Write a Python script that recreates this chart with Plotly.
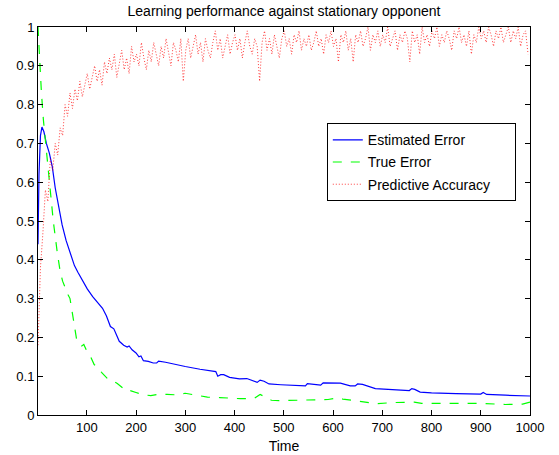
import plotly.graph_objects as go

# ---- data ----
err_t = [1, 3, 6, 9, 13, 18, 24, 30, 36, 42, 50, 58, 68, 75, 82, 92, 101, 112, 122, 132,
         140, 148, 155, 160, 166, 175, 182, 186, 192, 200, 206, 210, 215, 225, 235, 242,
         246, 260, 280, 300, 330, 362, 366, 372, 378, 390, 410, 420, 425, 446, 452, 460,
         470, 494, 544, 548, 575, 580, 605, 615, 635, 645, 650, 660, 686, 720, 755, 760,
         766, 777, 800, 850, 900, 905, 912, 950, 1000]
est_err = [0.44, 0.62, 0.72, 0.742, 0.73, 0.70, 0.675, 0.64, 0.585, 0.545, 0.49, 0.45,
           0.415, 0.385, 0.368, 0.345, 0.325, 0.305, 0.29, 0.275, 0.255, 0.228, 0.222,
           0.205, 0.19, 0.18, 0.175, 0.178, 0.168, 0.16, 0.15, 0.152, 0.14, 0.138, 0.134,
           0.134, 0.139, 0.136, 0.13, 0.125, 0.118, 0.112, 0.10, 0.104, 0.104, 0.097,
           0.093, 0.093, 0.094, 0.084, 0.09, 0.087, 0.08, 0.078, 0.075, 0.081, 0.077,
           0.083, 0.083, 0.082, 0.075, 0.075, 0.08, 0.079, 0.068, 0.066, 0.063, 0.068,
           0.066, 0.059, 0.057, 0.055, 0.054, 0.058, 0.053, 0.051, 0.049]

true_t = [1, 4, 8, 12, 18, 25, 32, 40, 46, 51, 58, 62, 66, 71, 76, 80, 86, 90, 94, 100,
          108, 115, 122, 130, 142, 150, 162, 170, 175, 180, 190, 200, 215, 230, 245, 263,
          280, 300, 310, 330, 345, 370, 390, 412, 440, 452, 460, 475, 494, 530, 560, 590,
          608, 620, 650, 690, 720, 765, 780, 850, 900, 950, 985, 1000]
true_err = [1.0, 0.92, 0.83, 0.76, 0.68, 0.58, 0.50, 0.42, 0.37, 0.345, 0.32, 0.31, 0.30,
            0.26, 0.21, 0.19, 0.184, 0.178, 0.182, 0.165, 0.15, 0.13, 0.124, 0.11, 0.094,
            0.09, 0.081, 0.074, 0.068, 0.07, 0.062, 0.058, 0.052, 0.05, 0.053, 0.053,
            0.052, 0.056, 0.054, 0.05, 0.046, 0.045, 0.044, 0.042, 0.043, 0.053, 0.048,
            0.038, 0.037, 0.038, 0.038, 0.040, 0.044, 0.041, 0.036, 0.029, 0.032, 0.033,
            0.03, 0.029, 0.03, 0.027, 0.028, 0.033]

acc_t = list(range(1, 1001, 5))
pred_acc = [
    0.18, 0.38, 0.47, 0.58, 0.55, 0.66, 0.63, 0.70, 0.67, 0.74,
    0.72, 0.80, 0.77, 0.83, 0.79, 0.84, 0.81, 0.86, 0.82, 0.85,
    0.88, 0.84, 0.87, 0.90, 0.86, 0.89, 0.85, 0.91, 0.88, 0.92,
    0.89, 0.93, 0.87, 0.91, 0.94, 0.89, 0.92, 0.88, 0.95, 0.91,
    0.93, 0.90, 0.96, 0.92, 0.89, 0.94, 0.91, 0.96, 0.93, 0.90,
    0.95, 0.92, 0.97, 0.93, 0.90, 0.96, 0.94, 0.91, 0.97, 0.86,
    0.94, 0.97, 0.92, 0.95, 0.98, 0.93, 0.96, 0.91, 0.97, 0.94,
    0.92, 0.96, 0.99, 0.94, 0.97, 0.92, 0.95, 0.98, 0.93, 0.96,
    0.98, 0.94, 0.97, 0.92, 0.96, 0.99, 0.95, 0.93, 0.97, 0.95,
    0.86, 0.96, 0.99, 0.94, 0.97, 0.93, 0.98, 0.95, 0.92, 0.97,
    0.99, 0.95, 0.97, 0.93, 0.98, 0.96, 0.99, 0.94, 0.97, 0.95,
    0.98, 0.94, 0.96, 0.99, 0.95, 0.97, 0.93, 0.98, 0.96, 0.99,
    0.95, 0.97, 0.91, 0.98, 0.96, 0.99, 0.94, 0.97, 0.91, 0.98,
    0.96, 0.99, 0.95, 0.97, 1.00, 0.94, 0.98, 0.96, 0.99, 0.95,
    0.98, 0.96, 1.00, 0.95, 0.97, 0.99, 0.94, 0.98, 0.96, 0.99,
    0.97, 0.91, 0.99, 0.96, 0.98, 0.93, 1.00, 0.96, 0.98, 0.95,
    0.99, 0.97, 1.00, 0.95, 0.98, 0.96, 0.99, 0.97, 0.94, 0.99,
    0.97, 1.00, 0.96, 0.98, 0.95, 0.99, 0.93, 0.98, 0.96, 1.00,
    0.97, 0.99, 0.96, 1.00, 0.98, 0.95, 0.99, 0.97, 1.00, 0.96,
    0.98, 1.00, 0.96, 0.99, 0.97, 1.00, 0.95, 0.98, 0.99, 0.93,
]

x_ticks = [100, 200, 300, 400, 500, 600, 700, 800, 900, 1000]
y_ticks = [0, 0.1, 0.2, 0.3, 0.4, 0.5, 0.6, 0.7, 0.8, 0.9, 1]
y_tick_labels = ["0", "0.1", "0.2", "0.3", "0.4", "0.5", "0.6", "0.7", "0.8", "0.9", "1"]

FONT = "Liberation Sans, Arial, Helvetica, sans-serif"
PAD = "\u00a0" * 5  # keeps legend box as wide as the reference

fig = go.Figure()
fig.add_trace(go.Scatter(x=err_t, y=est_err, mode="lines", name="Estimated Error",
                         legendgroup="a",
                         line=dict(color="#0000FF", width=1.2)))
fig.add_trace(go.Scatter(x=true_t, y=true_err, mode="lines", name="True Error",
                         legendgroup="b",
                         line=dict(color="#00FF00", width=1.2, dash="dash")))
fig.add_trace(go.Scatter(x=acc_t, y=pred_acc, mode="lines",
                         name="Predictive Accuracy" + PAD,
                         legendgroup="c", opacity=0.85,
                         line=dict(color="#FF0000", width=0.9, dash="1px,2px")))

axis_common = dict(showgrid=False, zeroline=False, showline=True, linecolor="black",
                   linewidth=1, mirror="ticks", ticks="inside", ticklen=5,
                   automargin=False,
                   tickcolor="black", tickfont=dict(family=FONT, size=13, color="black"))

fig.update_layout(
    width=559, height=455,
    margin=dict(l=38, r=29, t=27, b=40),
    paper_bgcolor="white", plot_bgcolor="white",
    font=dict(family=FONT, size=13, color="black"),
    title=dict(text="Learning performance against stationary opponent",
               x=0.508, xanchor="center", y=0.975, yanchor="middle",
               font=dict(family=FONT, size=14, color="black")),
    xaxis=dict(range=[1, 1000], tickvals=x_ticks, ticktext=[str(v) for v in x_ticks],
               title=dict(text="Time", standoff=7, font=dict(family=FONT, size=14)),
               **axis_common),
    yaxis=dict(range=[0, 1], tickvals=y_ticks, ticktext=y_tick_labels, **axis_common),
    legend=dict(x=0.587, y=0.752, xanchor="left", yanchor="top",
                traceorder="grouped", tracegroupgap=1,
                bgcolor="white", bordercolor="black", borderwidth=1,
                font=dict(family=FONT, size=14, color="black")),
    showlegend=True,
)

fig.write_html("out.html")
